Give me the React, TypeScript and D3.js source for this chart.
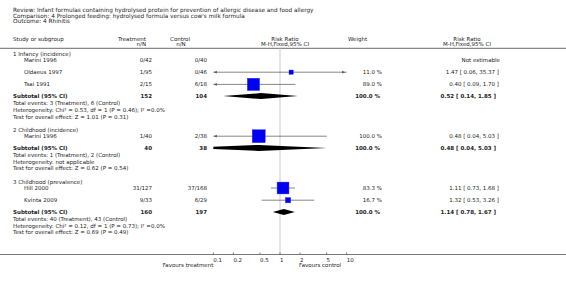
import React from "react";
import * as d3 from "d3";

const titleLines = [
  "Review:  Infant formulas containing hydrolysed protein for prevention of allergic disease and food allergy",
  "Comparison:  4 Prolonged feeding: hydrolysed formula versus cow's milk formula",
  "Outcome:  4 Rhinitis",
];

const groupNames = ["1 Infancy (incidence)", "2 Childhood (incidence)", "3 Childhood (prevalence)"];
const groupTreatTotal = [152, 40, 160];
const groupControlTotal = [104, 38, 197];
const groupRR = [0.52, 0.48, 1.14];
const groupLo = [0.14, 0.04, 0.78];
const groupHi = [1.85, 5.03, 1.67];
const groupEvents = [
  "Total events: 3 (Treatment), 6 (Control)",
  "Total events: 1 (Treatment), 2 (Control)",
  "Total events: 40 (Treatment), 43 (Control)",
];
const groupHet = [
  "Heterogeneity: Chi² = 0.53, df = 1 (P = 0.46); I² =0.0%",
  "Heterogeneity: not applicable",
  "Heterogeneity: Chi² = 0.12, df = 1 (P = 0.73); I² =0.0%",
];
const groupTest = [
  "Test for overall effect: Z = 1.01 (P = 0.31)",
  "Test for overall effect: Z = 0.62 (P = 0.54)",
  "Test for overall effect: Z = 0.69 (P = 0.49)",
];

const studyNames = ["Marini 1996", "Oldaeus 1997", "Tsai 1991", "Marini 1996", "Hill 2000", "Kvinta 2009"];
const studyGroup = [0, 0, 0, 1, 2, 2];
const studyTreat = ["0/42", "1/95", "2/15", "1/40", "31/127", "9/33"];
const studyControl = ["0/40", "0/46", "6/18", "2/38", "37/168", "6/29"];
const studyRR: (number | null)[] = [null, 1.47, 0.4, 0.48, 1.11, 1.32];
const studyLo: (number | null)[] = [null, 0.06, 0.09, 0.04, 0.73, 0.53];
const studyHi: (number | null)[] = [null, 35.37, 1.7, 5.03, 1.68, 3.26];
const studyWeight: (number | null)[] = [null, 11.0, 89.0, 100.0, 83.3, 16.7];

const axisTicks = [0.1, 0.2, 0.5, 1, 2, 5, 10];
const axisTickLabels = ["0.1", "0.2", "0.5", "1", "2", "5", "10"];
const favoursLeft = "Favours treatment";
const favoursRight = "Favours control";

const W = 566;
const H = 285;
const FONT = "'DejaVu Sans', Verdana, sans-serif";
const FS = 5.5;
const TXT = "#222";

const x = d3.scaleLog().domain([0.1, 10]).range([213.3, 346.7]);

const fmt = (v: number) => d3.format(".2f")(v);
const ciText = (rr: number, lo: number, hi: number) => `${fmt(rr)} [ ${fmt(lo)}, ${fmt(hi)} ]`;

type Row =
  | { kind: "group"; y: number; g: number }
  | { kind: "study"; y: number; s: number }
  | { kind: "subtotal"; y: number; g: number }
  | { kind: "foot"; y: number; text: string };

function buildRows(): Row[] {
  const rows: Row[] = [];
  let y = 54;
  groupNames.forEach((_, g) => {
    rows.push({ kind: "group", y, g });
    const ss = studyNames.map((_, i) => i).filter((i) => studyGroup[i] === g);
    y += 6;
    ss.forEach((s, k) => {
      if (k > 0) y += 12.2;
      rows.push({ kind: "study", y, s });
    });
    y += 11.7;
    rows.push({ kind: "subtotal", y, g });
    y += 7;
    [groupEvents[g], groupHet[g], groupTest[g]].forEach((t, k) => {
      if (k > 0) y += 6.7;
      rows.push({ kind: "foot", y, text: t });
    });
    y += 13.7;
  });
  return rows;
}

export default function App() {
  const rows = buildRows();
  const base = 2; // center -> baseline offset
  const x0 = x(0.1);
  const x1 = x(10);

  const arrow = (xx: number, y: number, dir: number, col: string) => (
    <path d={`M${xx},${y} L${xx - dir * 3},${y - 1.4} L${xx - dir * 3},${y + 1.4} Z`} fill={col} />
  );

  return (
    <svg
      width={W}
      height={H}
      style={{ position: "absolute", left: 0, top: 0, background: "#fff" }}
      fontFamily={FONT}
      fontSize={FS}
      fill={TXT}
    >
      <defs>
        <clipPath id="plotclip">
          <rect x={x0} y={0} width={x1 - x0} height={H} />
        </clipPath>
      </defs>
      <rect width={W} height={H} fill="#fff" />
      {titleLines.map((t, i) => (
        <text key={i} x={13} y={10 + i * 5.6 + base} fontSize={5.75}>
          {t}
        </text>
      ))}
      {/* headers */}
      <text x={13} y={39.3 + base}>Study or subgroup</text>
      <text x={146} y={39.3 + base} textAnchor="end">Treatment</text>
      <text x={146} y={44.3 + base} textAnchor="end">n/N</text>
      <text x={180} y={39.3 + base} textAnchor="middle">Control</text>
      <text x={181} y={44.3 + base} textAnchor="middle">n/N</text>
      <text x={285} y={39.3 + base} textAnchor="middle">Risk Ratio</text>
      <text x={285} y={44.3 + base} textAnchor="middle">M-H,Fixed,95% CI</text>
      <text x={348} y={39.3 + base}>Weight</text>
      <text x={467} y={39.3 + base} textAnchor="middle">Risk Ratio</text>
      <text x={467} y={44.3 + base} textAnchor="middle">M-H,Fixed,95% CI</text>
      <line x1={0} x2={W} y1={48.3} y2={48.3} stroke="#888" strokeWidth={1.2} />

      {/* reference line */}
      <line x1={x(1)} x2={x(1)} y1={48.8} y2={254} stroke="#ddd" strokeWidth={1.5} />

      {rows.map((r, i) => {
        if (r.kind === "group")
          return (
            <text key={i} x={13} y={r.y + base}>
              {groupNames[r.g]}
            </text>
          );
        if (r.kind === "foot")
          return (
            <text key={i} x={13} y={r.y + base}>
              {r.text}
            </text>
          );
        if (r.kind === "study") {
          const s = r.s;
          const rr = studyRR[s];
          const lo = studyLo[s];
          const hi = studyHi[s];
          const w = studyWeight[s];
          const col = "#555";
          return (
            <g key={i}>
              <text x={24} y={r.y + base}>{studyNames[s]}</text>
              <text x={152} y={r.y + base} textAnchor="end">{studyTreat[s]}</text>
              <text x={207} y={r.y + base} textAnchor="end">{studyControl[s]}</text>
              {rr == null || lo == null || hi == null || w == null ? (
                <text x={500} y={r.y + base} textAnchor="end">Not estimable</text>
              ) : (
                <g>
                  <line
                    x1={Math.max(x0, x(lo))}
                    x2={Math.min(x1, x(hi))}
                    y1={r.y}
                    y2={r.y}
                    stroke={col}
                    strokeWidth={0.7}
                  />
                  {lo < 0.1 && arrow(x0 + 0.5, r.y, -1, col)}
                  {hi > 10 && arrow(x1 - 1.5, r.y, 1, col)}
                  {(() => {
                    const sz = 13 * Math.sqrt(w / 100);
                    return (
                      <rect
                        x={x(rr) - sz / 2}
                        y={r.y - sz / 2}
                        width={sz}
                        height={sz}
                        fill="#0000f0"
                        stroke="#3030ff"
                        strokeWidth={0.4}
                      />
                    );
                  })()}
                  <text x={382} y={r.y + base} textAnchor="end">{`${w.toFixed(1)} %`}</text>
                  <text x={499} y={r.y + base} textAnchor="end">{ciText(rr, lo, hi)}</text>
                </g>
              )}
            </g>
          );
        }
        // subtotal
        const g = r.g;
        const h = 3;
        const xl = x(groupLo[g]);
        const xc = x(groupRR[g]);
        const xr = x(groupHi[g]);
        return (
          <g key={i} fontWeight="bold">
            <text x={13} y={r.y + base}>Subtotal (95% CI)</text>
            <text x={152} y={r.y + base} textAnchor="end">{groupTreatTotal[g]}</text>
            <text x={207} y={r.y + base} textAnchor="end">{groupControlTotal[g]}</text>
            <path
              d={`M${xl},${r.y} L${xc},${r.y - h} L${xr},${r.y} L${xc},${r.y + h} Z`}
              fill="#000"
              clipPath="url(#plotclip)"
            />
            <text x={380} y={r.y + base} textAnchor="end">100.0 %</text>
            <text x={496} y={r.y + base} textAnchor="end">{ciText(groupRR[g], groupLo[g], groupHi[g])}</text>
          </g>
        );
      })}

      {/* axis */}
      <line x1={0} x2={W} y1={254.5} y2={254.5} stroke="#555" strokeWidth={0.8} />
      {axisTicks.map((t, i) => (
        <g key={i}>
          <line x1={x(t)} x2={x(t)} y1={252.5} y2={254.5} stroke="#555" strokeWidth={0.8} />
          <text x={x(t)} y={259.5 + base}>{axisTickLabels[i]}</text>
        </g>
      ))}
      <text x={x(0.1)} y={265 + base} textAnchor="end">{favoursLeft}</text>
      <text x={x(2) - 1} y={265 + base}>{favoursRight}</text>
    </svg>
  );
}
